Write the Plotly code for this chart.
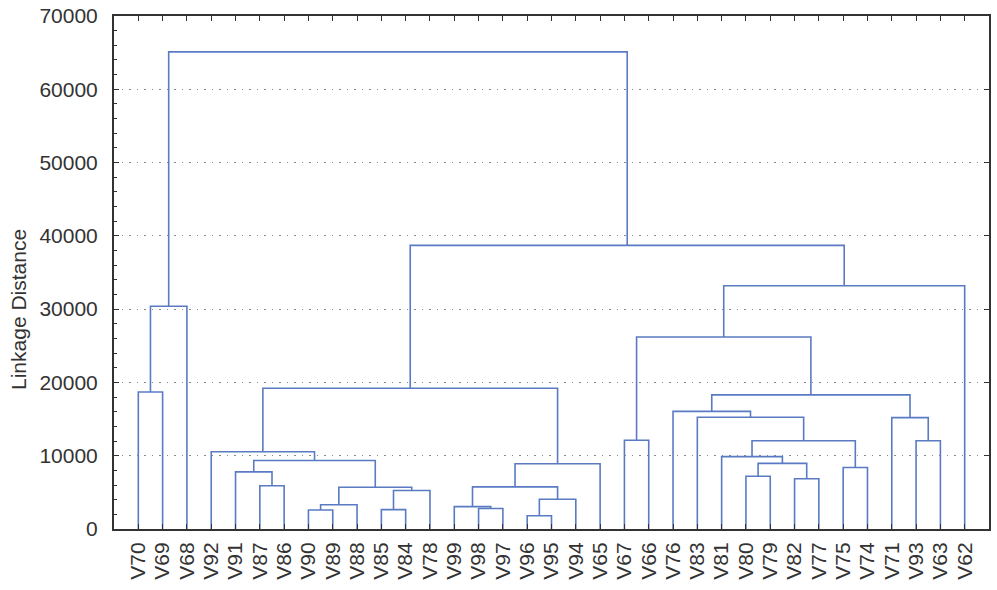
import plotly.graph_objects as go

# Leaf order along the horizontal axis
leaves = ["V70", "V69", "V68", "V92", "V91", "V87", "V86", "V90", "V89", "V88",
          "V85", "V84", "V78", "V99", "V98", "V97", "V96", "V95", "V94", "V65",
          "V67", "V66", "V76", "V83", "V81", "V80", "V79", "V82", "V77", "V75",
          "V74", "V71", "V93", "V63", "V62"]

# Merge steps: cluster Ck is formed by joining merge_left[k-1] and merge_right[k-1]
merge_left = ["V70", "C1", "V87", "V91", "V90", "C5", "V85", "C7", "C6", "C4",
              "V92", "V98", "V99", "V96", "C14", "C13", "C16", "C11", "V67", "V80",
              "V82", "C20", "V81", "V75", "C23", "V83", "V76", "V93", "V71", "C27",
              "C19", "C31", "C18", "C2"]
merge_right = ["V69", "V68", "V86", "C3", "V89", "V88", "V84", "V78", "C8", "C9",
               "C10", "V97", "C12", "V95", "V94", "C15", "V65", "C17", "V66", "V79",
               "V77", "C21", "C22", "V74", "C24", "C25", "C26", "V63", "C28", "C29",
               "C30", "V62", "C32", "C33"]
merge_height = [18700, 30400, 5900, 7800, 2600, 3300, 2650, 5250, 5700, 9350,
                10550, 2800, 3050, 1800, 4050, 5750, 8900, 19200, 12100, 7200,
                6850, 8950, 9870, 8400, 12050, 15250, 16050, 12050, 15200, 18300,
                26200, 33200, 38700, 65100]

y_ticks = [0, 10000, 20000, 30000, 40000, 50000, 60000, 70000]

# Build dendrogram segments from the linkage
pos = {name: i + 1 for i, name in enumerate(leaves)}
hgt = {name: 0 for name in leaves}
xs, ys = [], []
for k, (a, b, h) in enumerate(zip(merge_left, merge_right, merge_height)):
    cid = f"C{k + 1}"
    xa, xb = pos[a], pos[b]
    xs += [xa, xa, xb, xb, None]
    ys += [hgt[a], h, h, hgt[b], None]
    pos[cid] = (xa + xb) / 2
    hgt[cid] = h

line_color = "#5a7bc3"
axis_color = "#333333"
font_fam = "Arial, Liberation Sans, sans-serif"

fig = go.Figure()
fig.add_trace(go.Scatter(x=xs, y=ys, mode="lines",
                         line=dict(color=line_color, width=1.6),
                         showlegend=False, hoverinfo="skip"))
fig.add_trace(go.Scatter(x=[None], y=[None], yaxis="y2", mode="lines",
                         showlegend=False, hoverinfo="skip"))

fig.update_layout(
    width=997, height=590,
    margin=dict(l=114, r=8, t=16, b=61, autoexpand=False),
    paper_bgcolor="white", plot_bgcolor="white",
    font=dict(family=font_fam, size=21, color="#333333"),
    xaxis=dict(range=[0, 36], tickmode="array", automargin=False,
               tickvals=list(range(1, len(leaves) + 1)), ticktext=leaves,
               tickangle=-90, ticks="inside", ticklen=5, tickwidth=1.2,
               tickcolor=axis_color, showline=True, linecolor=axis_color,
               linewidth=2, mirror="ticks", showgrid=False, zeroline=False,
               tickfont=dict(size=21, color="#333333"), ticklabelstandoff=3,
               ticklabeloverflow="allow"),
    yaxis=dict(range=[0, 70000], tickmode="array", tickvals=y_ticks,
               ticktext=[str(v) for v in y_ticks], automargin=False,
               ticks="inside", ticklen=5, tickwidth=1.2, tickcolor=axis_color,
               showline=True, linecolor=axis_color, linewidth=2, mirror=True,
               showgrid=True, gridcolor="#8a8a8a", griddash="1.5px,6px",
               gridwidth=1.2, ticklabeloverflow="allow",
               zeroline=False, tickfont=dict(size=21, color="#333333"),
               ticklabelstandoff=10,
               minor=dict(dtick=2000, ticks="inside", ticklen=3,
                          tickcolor=axis_color, showgrid=False)),
    yaxis2=dict(range=[0, 70000], overlaying="y", side="right", automargin=False,
                tickmode="array", tickvals=y_ticks, showticklabels=False,
                ticks="inside", ticklen=5, tickwidth=1.2, tickcolor=axis_color,
                showgrid=False, zeroline=False, showline=False),
    annotations=[dict(text="Linkage Distance", textangle=-90,
                      xref="paper", yref="paper",
                      x=(18 - 114) / 875, y=(529 - 310) / 513,
                      xanchor="center", yanchor="middle", showarrow=False,
                      font=dict(size=21, color="#333333", family=font_fam))],
)

# Remove the default page margin so the figure fills the window exactly
fig.write_html("out.html",
               config={"displayModeBar": False},
               post_script="document.body.style.margin='0';"
                           "document.body.style.overflow='hidden';")
